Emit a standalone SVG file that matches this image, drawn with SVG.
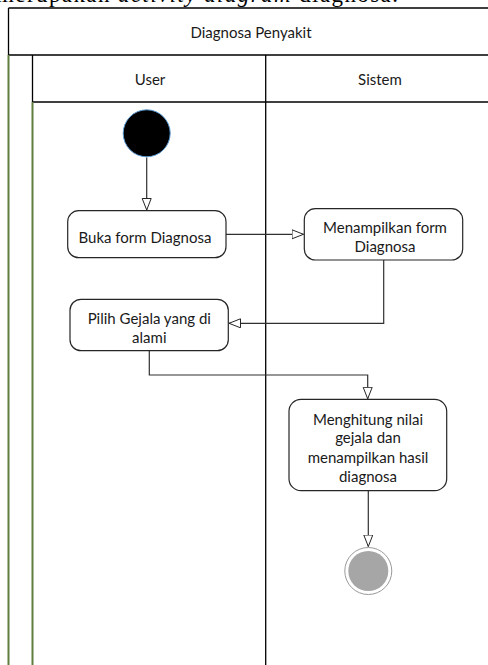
<svg xmlns="http://www.w3.org/2000/svg" width="488" height="665" viewBox="0 0 488 665">
  <style>
    .lbl { font-family: Lato, "Open Sans", sans-serif; font-size: 15px; fill: #1a1a1a; text-anchor: middle; }
    .cap { font-family: "Liberation Serif", serif; font-size: 23px; fill: #000; }
    .frame { fill: none; stroke: #000; stroke-width: 1.3; }
    .green { stroke: #5f7f3e; stroke-width: 2; fill: none; }
    .act { fill: #fff; stroke: #262626; stroke-width: 1.2; }
    .flow { fill: none; stroke: #303030; stroke-width: 1.2; }
  </style>
  <defs>
    <marker id="open" markerWidth="14" markerHeight="12" refX="12" refY="5" orient="auto" markerUnits="userSpaceOnUse">
      <path d="M0.5,0.5 L12,5 L0.5,9.5 Z" fill="#fff" stroke="#262626" stroke-width="1"/>
    </marker>
  </defs>
  <rect width="488" height="665" fill="#fff"/>

  <!-- caption line above the figure -->
  <text class="cap" x="-4" y="2" textLength="402" lengthAdjust="spacing">merupakan <tspan font-style="italic">activity diagram</tspan> diagnosa.</text>

  <!-- pool and swimlanes -->
  <g id="pool">
    <path class="frame" d="M8.5,8 H496 M8.5,8 V55 M8.5,55 H496"/>
    <line class="green" x1="8.5" y1="55" x2="8.5" y2="665"/>
    <text class="lbl" x="251" y="38">Diagnosa Penyakit</text>
  </g>
  <g id="lane-user">
    <path class="frame" d="M32.5,55 V102 M32.5,102 H265.7"/>
    <line class="green" x1="32.5" y1="102" x2="32.5" y2="665"/>
    <text class="lbl" x="150" y="85">User</text>
  </g>
  <g id="lane-sistem">
    <path class="frame" d="M265.7,55 V665 M265.7,102 H496"/>
    <text class="lbl" x="380" y="85">Sistem</text>
  </g>

  <!-- connectors -->
  <g id="connectors">
    <path class="flow" d="M146.7,157.5 V210" marker-end="url(#open)"/>
    <path class="flow" d="M226,234.3 H303.5" marker-end="url(#open)"/>
    <path class="flow" d="M383.7,260 V323.3 H229" marker-end="url(#open)"/>
    <path class="flow" d="M149.3,350.7 V375 H367.7 V398.8" marker-end="url(#open)"/>
    <path class="flow" d="M368.3,490.7 V546.5" marker-end="url(#open)"/>
  </g>

  <!-- nodes -->
  <g id="start">
    <circle cx="146.7" cy="133.3" r="23.5" fill="#000" stroke="#5b9bd5" stroke-width="1"/>
  </g>
  <g id="buka-form">
    <rect class="act" x="67.7" y="210.7" width="158.3" height="47" rx="11"/>
    <text class="lbl" x="145" y="242.5">Buka  form Diagnosa</text>
  </g>
  <g id="tampil-form">
    <rect class="act" x="304.3" y="208.7" width="158.4" height="51.3" rx="11"/>
    <text class="lbl" x="385" y="232.5">Menampilkan form</text>
    <text class="lbl" x="385" y="251.5">Diagnosa</text>
  </g>
  <g id="pilih-gejala">
    <rect class="act" x="70" y="299.3" width="158.3" height="51.4" rx="11"/>
    <text class="lbl" x="149.3" y="323.5">Pilih Gejala yang di</text>
    <text class="lbl" x="149.3" y="342.5">alami</text>
  </g>
  <g id="hitung">
    <rect class="act" x="289" y="399.3" width="157.7" height="91.4" rx="12"/>
    <text class="lbl" x="368" y="424.5">Menghitung nilai</text>
    <text class="lbl" x="368" y="442.5">gejala dan</text>
    <text class="lbl" x="368" y="462.5">menampilkan hasil</text>
    <text class="lbl" x="368" y="481.5">diagnosa</text>
  </g>
  <g id="end">
    <circle cx="368.3" cy="571" r="23.5" fill="#fff" stroke="#9a9a9a" stroke-width="1"/>
    <circle cx="368.3" cy="571" r="20" fill="#a6a6a6"/>
  </g>
</svg>
